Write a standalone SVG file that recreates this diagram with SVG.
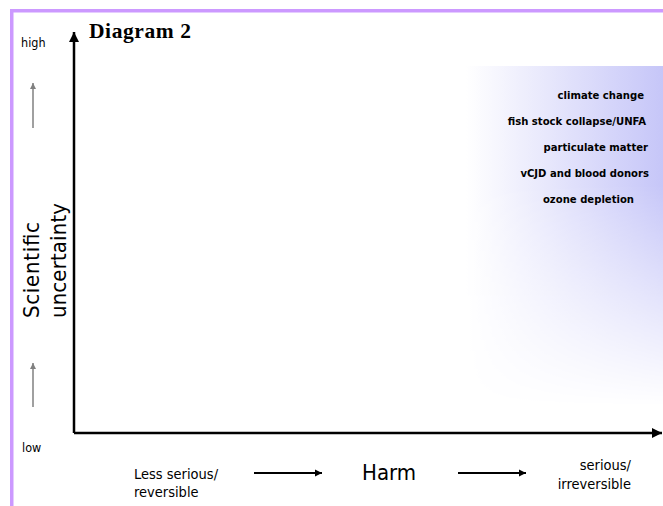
<svg xmlns="http://www.w3.org/2000/svg" width="663" height="506" viewBox="0 0 663 506">
<style>
.sans{font-family:"DejaVu Sans Condensed","DejaVu Sans",sans-serif;font-stretch:condensed;fill:#000}
.lbl{font-size:11.2px;font-weight:bold;text-anchor:end}
.ax{stroke:#000;stroke-width:2.5;fill:none}
.sm{stroke:#000;stroke-width:2;fill:none}
.gr{stroke:#808080;stroke-width:1.5;fill:none}
</style>
<defs>
<linearGradient id="hg" x1="0" y1="0" x2="1" y2="0">
<stop offset="0" stop-color="#ffffff"/>
<stop offset="1" stop-color="#c6c6f8"/>
</linearGradient>
<linearGradient id="vg" x1="0" y1="0" x2="0" y2="1">
<stop offset="0" stop-color="#fff"/>
<stop offset="0.35" stop-color="#fff"/>
<stop offset="1" stop-color="#000"/>
</linearGradient>
<mask id="fade" maskUnits="userSpaceOnUse" x="460" y="60" width="210" height="350">
<rect x="460" y="66" width="210" height="340" fill="url(#vg)"/>
</mask>
<marker id="ah" viewBox="0 0 10 10" refX="10" refY="5" markerWidth="4" markerHeight="4" orient="auto" markerUnits="strokeWidth">
<path d="M0,0 L10,5 L0,10 z" fill="#000"/>
</marker>
<marker id="ahs" viewBox="0 0 10 10" refX="10" refY="5" markerWidth="3.5" markerHeight="4" orient="auto" markerUnits="strokeWidth">
<path d="M0,0 L10,5 L0,10 z" fill="#000"/>
</marker>
<marker id="ahg" viewBox="0 0 10 10" refX="10" refY="5" markerWidth="4" markerHeight="4" orient="auto" markerUnits="strokeWidth">
<path d="M0,0 L10,5 L0,10 z" fill="#808080"/>
</marker>
</defs>
<rect x="0" y="0" width="663" height="506" fill="#fff"/>
<g id="frame">
<rect x="10" y="9" width="653" height="3.5" fill="#cc99ff"/>
<rect x="10" y="9" width="3.5" height="497" fill="#cc99ff"/>
</g>
<g id="shade">
<rect x="466" y="66" width="197" height="340" fill="url(#hg)" mask="url(#fade)"/>
</g>
<g id="connectors">
<path class="ax" d="M74,433 V32" marker-end="url(#ah)"/>
<path class="ax" d="M74,433 H662" marker-end="url(#ah)"/>
<path class="gr" d="M33,128 V83" marker-end="url(#ahg)"/>
<path class="gr" d="M33,407 V363" marker-end="url(#ahg)"/>
<path class="sm" d="M254,473 H322" marker-end="url(#ahs)"/>
<path class="sm" d="M458,473 H526" marker-end="url(#ahs)"/>
</g>
<g id="title">
<text x="89" y="38" font-family="'Liberation Serif',serif" font-weight="bold" font-size="21.5" textLength="102">Diagram 2</text>
</g>
<g id="yaxis-labels">
<text class="sans" x="21" y="47" font-size="12.5">high</text>
<text class="sans" x="22" y="452" font-size="12.5">low</text>
<text class="sans" font-size="22" textLength="96" transform="translate(39,318) rotate(-90)">Scientific</text>
<text class="sans" font-size="22" textLength="115" transform="translate(66,318) rotate(-90)">uncertainty</text>
</g>
<g id="xaxis-labels">
<text class="sans" x="134" y="479" font-size="14.5">Less serious/</text>
<text class="sans" x="134" y="497" font-size="14.5">reversible</text>
<text class="sans" x="362" y="480" font-size="22">Harm</text>
<text class="sans" x="631" y="470" font-size="14.5" text-anchor="end">serious/</text>
<text class="sans" x="631" y="489" font-size="14.5" text-anchor="end">irreversible</text>
</g>
<g id="n1"><text class="sans lbl" x="644" y="99">climate change</text></g>
<g id="n2"><text class="sans lbl" x="646" y="125">fish stock collapse/UNFA</text></g>
<g id="n3"><text class="sans lbl" x="648" y="151">particulate matter</text></g>
<g id="n4"><text class="sans lbl" x="649" y="177">vCJD and blood donors</text></g>
<g id="n5"><text class="sans lbl" x="634" y="203">ozone depletion</text></g>
</svg>
